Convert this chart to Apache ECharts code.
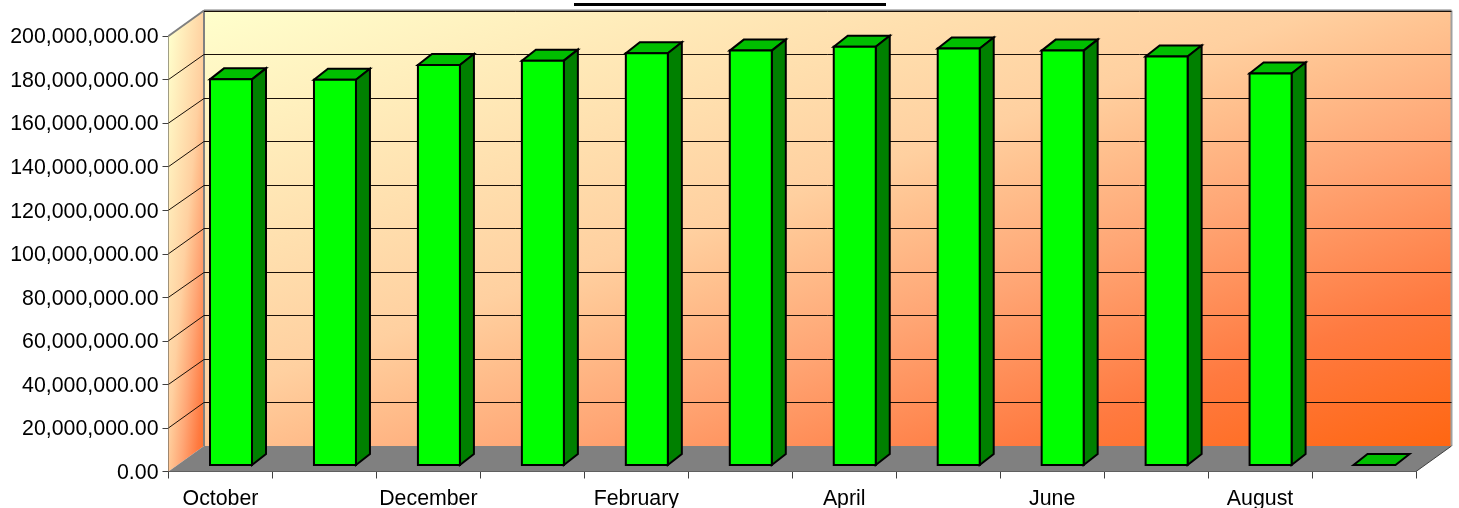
<!DOCTYPE html>
<html>
<head>
<meta charset="utf-8">
<style>html,body{margin:0;padding:0;background:#fff}#c{width:1459px;height:508px}</style>
<script src="https://cdn.jsdelivr.net/npm/echarts@6/dist/echarts.min.js"></script>
</head>
<body>
<div id="c"></div>
<script>
var months = ['October','November','December','January','February','March','April','May','June','July','August','September'];
var values = [177100000,176900000,183700000,185700000,189100000,190300000,192100000,191300000,190300000,187600000,179800000,0];
var ticks = [0,20000000,40000000,60000000,80000000,100000000,120000000,140000000,160000000,180000000,200000000];

var DX = 35.5, DY = -25.5;
var BAR_W = 42, BAR_OFF = 41.5, BAR_LIFT = 6.5, BAR_DX = 14, BAR_DY = -11;
var STOPS = [
  {offset:0,color:'#FFFFCC'},{offset:0.446,color:'#FFD0A0'},{offset:0.51,color:'#FFC290'},
  {offset:0.635,color:'#FFA675'},{offset:0.824,color:'#FF7A40'},{offset:1,color:'#FF6611'}
];
var G = echarts.graphic;

function poly(points, fill, stroke, w) {
  return {type:'polygon', shape:{points:points}, style:{fill:fill, stroke:stroke||null, lineWidth:w||0, lineJoin:'miter'}};
}
function seg(a, b, color, w) {
  return {type:'line', shape:{x1:a[0],y1:a[1],x2:b[0],y2:b[1]}, style:{stroke:color,lineWidth:w,fill:null}};
}

function renderWalls(params, api) {
  var cs = params.coordSys, L = cs.x, R = cs.x + cs.width, T = cs.y, B = cs.y + cs.height;
  var backGrad = new G.LinearGradient(L+DX, T+DY, L+DX+270, T+DY+777, STOPS, true);
  var sideGrad = new G.LinearGradient(L, T, L+79, T+7, STOPS, true);
  return {type:'group', children:[
    poly([[L+DX,T+DY],[R+DX,T+DY],[R+DX,B+DY],[L+DX,B+DY]], backGrad),
    poly([[L,T],[L+DX,T+DY],[L+DX,B+DY],[L,B]], sideGrad),
    poly([[L,B],[L+DX,B+DY],[R+DX,B+DY],[R,B]], '#808080'),
    seg([L,T],[L+DX,T+DY],'#808080',2),
    seg([L+DX,T+DY],[R+DX,T+DY],'#808080',2),
    seg([L+DX,T+DY],[L+DX,B+DY],'#808080',2),
    seg([R+DX,T+DY],[R+DX,B+DY],'#A0A0A0',2),
    seg([R,B],[R+DX,B+DY],'#404040',1)
  ]};
}

function renderGrid(params, api) {
  var cs = params.coordSys, v = api.value(0);
  if (v === 0) return {type:'group', children:[]};
  var y = api.coord([0, v])[1], L = cs.x, R = cs.x + cs.width;
  var yy = Math.round(y + DY) + 0.5;
  var ch = [seg([L+DX,yy],[R+DX,yy],'#1a1008',1)];
  if (v !== ticks[ticks.length-1]) ch.push(seg([L,y],[L+DX,yy],'#1a1008',1));
  return {type:'group', children:ch};
}

function renderBar(params, api) {
  var i = api.value(0), v = api.value(1);
  var slot = api.size([1,0])[0];
  var left = api.coord([i,0])[0] - slot/2 + BAR_OFF, right = left + BAR_W;
  var bottom = api.coord([i,0])[1] - BAR_LIFT, top = api.coord([i,v])[1] - BAR_LIFT;
  var ch = [
    poly([[right,top],[right+BAR_DX,top+BAR_DY],[left+BAR_DX,top+BAR_DY],[left,top]], '#00BF00', '#000', 2)
  ];
  if (v > 0) {
    ch.push(poly([[right,top],[right+BAR_DX,top+BAR_DY],[right+BAR_DX,bottom+BAR_DY],[right,bottom]], '#008000', '#000', 2));
    ch.push(poly([[left,top],[right,top],[right,bottom],[left,bottom]], '#00FF00', '#000', 2));
  }
  return {type:'group', children:ch};
}

var chart = echarts.init(document.getElementById('c'), null, {renderer:'canvas'});
chart.setOption({
  animation:false,
  backgroundColor:'#ffffff',
  textStyle:{fontFamily:'"Liberation Sans", Arial, sans-serif'},
  grid:{left:168.5, top:36, width:1247.5, height:435.5, containLabel:false, outerBoundsMode:'none'},
  xAxis:{type:'category', data:months, boundaryGap:true,
    axisLine:{show:true,lineStyle:{color:'#404040',width:1}},
    axisTick:{show:true,length:7,interval:0,alignWithLabel:false,lineStyle:{color:'#404040',width:1}},
    axisLabel:{interval:1,color:'#000',fontSize:21.33,margin:17,fontFamily:'"Liberation Sans", Arial, sans-serif'},
    splitLine:{show:false}},
  yAxis:{type:'value', min:0, max:200000000, interval:20000000,
    axisLine:{show:true,lineStyle:{color:'#404040',width:1}},
    axisTick:{show:true,length:6,lineStyle:{color:'#404040',width:1}},
    axisLabel:{color:'#000',fontSize:21.33,margin:10,fontFamily:'"Liberation Sans", Arial, sans-serif',
      rich:{n:{color:'#000',fontSize:21.33,fontFamily:'"Liberation Sans", Arial, sans-serif',padding:[3,0,0,0]}},
      formatter:function(v){return '{n|'+v.toLocaleString('en-US',{minimumFractionDigits:2,maximumFractionDigits:2})+'}';}},
    splitLine:{show:false}},
  graphic:[{type:'rect',shape:{x:574,y:3,width:312,height:3},style:{fill:'#000'},z:10}],
  series:[
    {type:'custom',name:'walls',coordinateSystem:'cartesian2d',data:[[0,0]],renderItem:renderWalls,clip:false,silent:true,z:1},
    {type:'custom',name:'gridlines',coordinateSystem:'cartesian2d',data:ticks.map(function(t){return [t];}),encode:{y:0},renderItem:renderGrid,clip:false,silent:true,z:2},
    {type:'custom',name:'Value',coordinateSystem:'cartesian2d',data:values.map(function(v,i){return [i,v];}),encode:{x:0,y:1},renderItem:renderBar,clip:false,z:3}
  ]
});
</script>
</body>
</html>
